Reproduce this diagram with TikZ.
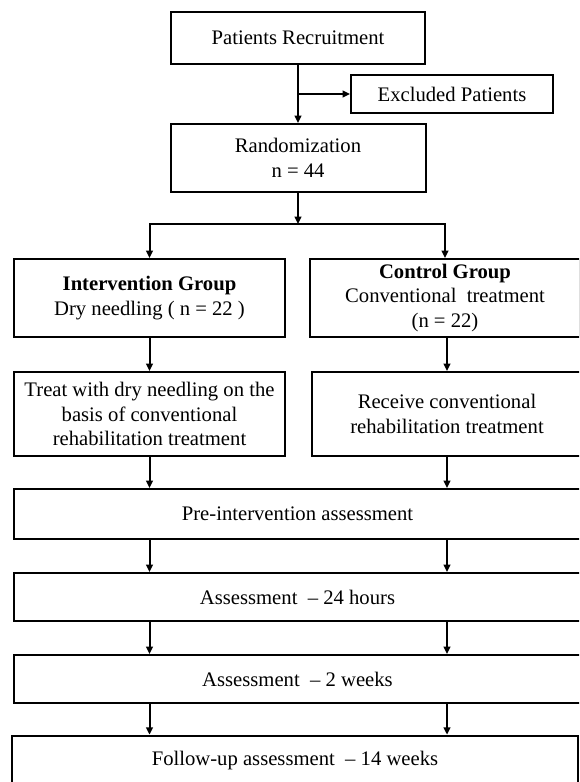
\documentclass[tikz,border=0pt]{standalone}
\usepackage{fontspec}
\setmainfont{Liberation Serif}
\usetikzlibrary{arrows.meta}

\tikzset{
  box/.style={draw, line width=1.5pt, align=center, inner sep=2pt,
    font=\fontsize{15.5}{18.6}\selectfont},
  arr/.style={line width=1.5pt, -{Triangle[length=5.5pt,width=5pt]}}
}

\begin{document}
\begin{tikzpicture}[x=0.75pt,y=-0.75pt]
    \clip (0,0) rectangle (579,782);
    \node[box, minimum width=190.5pt, minimum height=39pt] (recruit) at (298,38) {Patients Recruitment};
    \node[box, minimum width=151.5pt, minimum height=28.5pt] (excl) at (452,94) {Excluded Patients};
    \node[box, minimum width=191.25pt, minimum height=51pt] (rand) at (298,158) {Randomization\\n = 44};
    \node[box, minimum width=203.25pt, minimum height=58.5pt] (interv) at (149.5,298) {\textbf{Intervention Group}\\Dry needling ( n = 22 )};
    \node[box, minimum width=202.5pt, minimum height=58.5pt] (ctrl) at (445,298) {\textbf{Control Group}\\Conventional~ treatment\\(n = 22)};
    \node[box, minimum width=203.25pt, minimum height=63pt] (treat) at (149.5,414) {Treat with dry needling on the\\basis of conventional\\rehabilitation treatment};
    \node[box, minimum width=202.5pt, minimum height=63pt] (recv) at (447,414) {Receive conventional\\rehabilitation treatment};
    \node[box, minimum width=425.25pt, minimum height=37.5pt] (pre) at (297.5,514) {Pre-intervention assessment};
    \node[box, minimum width=425.25pt, minimum height=36pt] (h24) at (297.5,597) {Assessment~ -- 24 hours};
    \node[box, minimum width=425.25pt, minimum height=36pt] (wk2) at (297.5,679) {Assessment~ -- 2 weeks};
    \node[box, minimum width=424.5pt, minimum height=38pt] (follow) at (295,761) {Follow-up assessment~ -- 14 weeks};

    % top part
    \draw[arr] (recruit.south) -- (recruit.south |- rand.north);
    \draw[arr] (recruit.south |- excl.west) -- (excl.west);
    \coordinate (split) at (298,224);
    \draw[arr] (rand.south) -- (split);
    \draw[arr] (split) -| (interv.north);
    \draw[arr] (split) -| (ctrl.north);

    % two groups
    \draw[arr] (interv) -- (treat);
    \draw[arr] (recv.north |- ctrl.south) -- (recv.north);
    \draw[arr] (treat.south) -- (treat.south |- pre.north);
    \draw[arr] (recv.south) -- (recv.south |- pre.north);

    % assessments
    \draw[arr] (treat.south |- pre.south) -- (treat.south |- h24.north);
    \draw[arr] (recv.south |- pre.south) -- (recv.south |- h24.north);
    \draw[arr] (treat.south |- h24.south) -- (treat.south |- wk2.north);
    \draw[arr] (recv.south |- h24.south) -- (recv.south |- wk2.north);
    \draw[arr] (treat.south |- wk2.south) -- (treat.south |- follow.north);
    \draw[arr] (recv.south |- wk2.south) -- (recv.south |- follow.north);
\end{tikzpicture}
\end{document}
